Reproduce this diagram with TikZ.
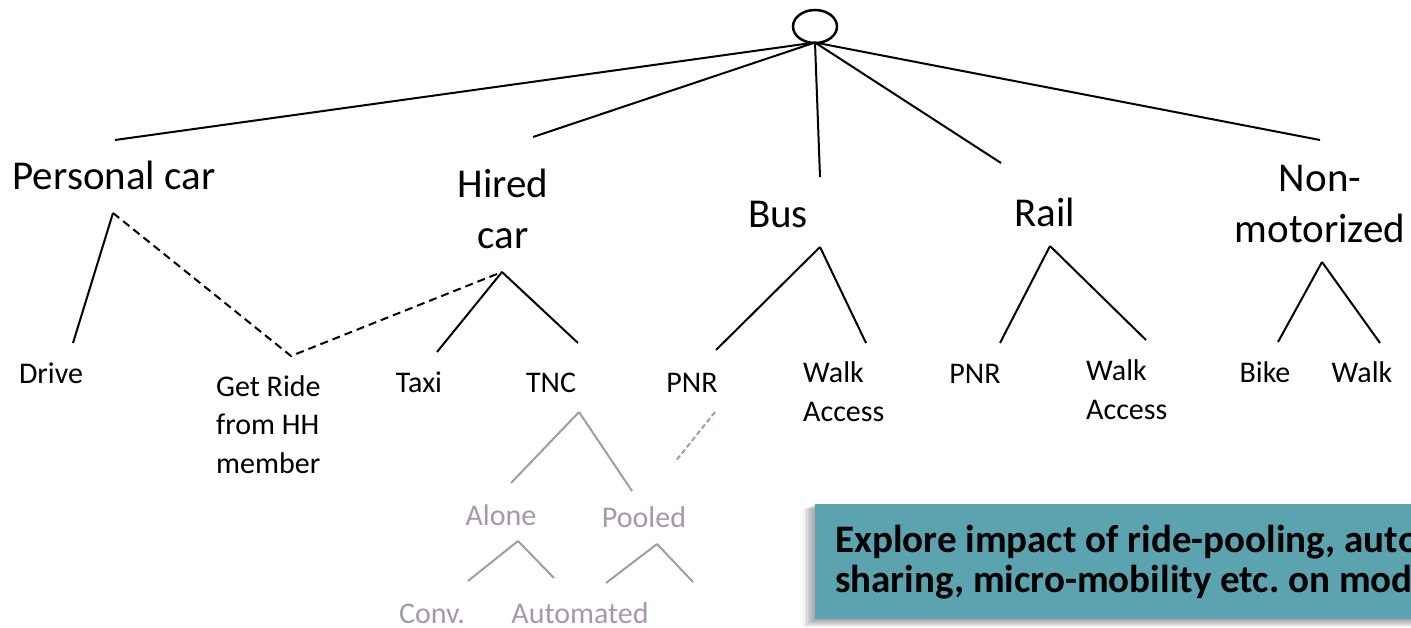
\documentclass[tikz,border=0pt]{standalone}
\usepackage{fontspec}
\usetikzlibrary{shapes.geometric}
\setmainfont{Carlito}
\definecolor{ghost}{HTML}{A598AA}
\definecolor{notefill}{HTML}{5BA3AE}
\begin{document}
\begin{tikzpicture}[x=1pt,y=-1pt,
  big/.style={font=\fontsize{41}{51}\selectfont, anchor=base, inner sep=0pt, align=center},
  small/.style={font=\fontsize{30}{38.5}\selectfont, anchor=base, inner sep=0pt},
  smallleft/.style={small, anchor=base west, align=left},
  faded/.style={small, text=ghost},
  branch/.style={line width=2pt, black},
  linkdash/.style={branch, dash pattern=on 8pt off 5pt},
  fadedline/.style={line width=2pt, ghost},
  fadeddash/.style={fadedline, dash pattern=on 5pt off 3pt},
]
\useasboundingbox (0,0) rectangle (1411,627);
\clip (0,0) rectangle (1411,627);

% root of the nest
\node[draw, line width=2.5pt, ellipse, minimum width=44pt, minimum height=33pt, inner sep=0pt] (root) at (815,26.5) {};
\coordinate (r) at (815,42.5);

% nest heads (multi-line nodes sit on their last baseline)
\node[big] (pcar) at (114,189) {Personal car};
\node[big] (hired) at (503,248) {Hired\\car};
\node[big] (bus) at (778,227) {Bus};
\node[big] (rail) at (1045,226) {Rail};
\node[big] (nonmot) at (1320,242) {Non-\\motorized};

% upper branch ends
\coordinate (pcarTop) at (115,140);
\coordinate (hiredTop) at (533,137);
\coordinate (busTop) at (820,177);
\coordinate (railTop) at (1001,163);
\coordinate (nonmotTop) at (1320,140);

\draw[branch] (r) -- (pcarTop);
\draw[branch] (r) -- (hiredTop);
\draw[branch] (r) -- (busTop);
\draw[branch] (r) -- (railTop);
\draw[branch] (r) -- (nonmotTop);

% apexes below the heads
\coordinate (pcarA) at (113,213);
\coordinate (hiredA) at (502,272);
\coordinate (busA) at (820,247);
\coordinate (railA) at (1050,246);
\coordinate (nonmotA) at (1322,262);

% leaf labels
\node[small] (drive) at (51,383) {Drive};
\node[smallleft] (getride) at (216,473) {Get Ride\\from HH\\member};
\node[small] (taxi) at (419,392) {Taxi};
\node[small] (tnc) at (551,392) {TNC};
\node[small] (pnrbus) at (692,392) {PNR};
\node[smallleft] (walkbus) at (803,421) {Walk\\Access};
\node[small] (pnrrail) at (975,383) {PNR};
\node[smallleft] (walkrail) at (1086,419) {Walk\\Access};
\node[small] (bike) at (1265,382) {Bike};
\node[small] (walk) at (1362,382) {Walk};

% lower branch ends
\coordinate (driveT) at (73,343);
\coordinate (getrideT) at (291,356);
\coordinate (taxiT) at (437,352);
\coordinate (tncT) at (578,343);
\coordinate (pnrbusT) at (716,350);
\coordinate (walkbusT) at (866,343);
\coordinate (pnrrailT) at (1000,343);
\coordinate (walkrailT) at (1146,340);
\coordinate (bikeT) at (1278,342);
\coordinate (walkT) at (1380,343);

\draw[branch] (pcarA) -- (driveT);
\draw[linkdash] (pcarA) -- (getrideT) -- (hiredA);
\draw[branch] (hiredA) -- (taxiT);
\draw[branch] (hiredA) -- (tncT);
\draw[branch] (busA) -- (pnrbusT);
\draw[branch] (busA) -- (walkbusT);
\draw[branch] (railA) -- (pnrrailT);
\draw[branch] (railA) -- (walkrailT);
\draw[branch] (nonmotA) -- (bikeT);
\draw[branch] (nonmotA) -- (walkT);

% faded sub-nest under TNC
\node[faded] (alone) at (501,525) {Alone};
\node[faded] (pooled) at (644,527) {Pooled};
\node[faded] (conv) at (432,623) {Conv.};
\node[faded] (auto) at (580,623) {Automated};

\coordinate (tncA) at (579,412);
\coordinate (aloneT) at (511,483);
\coordinate (pooledT) at (632,491);
\coordinate (pnrLow) at (715,412);
\coordinate (pooledLink) at (675,462);
\coordinate (aloneA) at (518,541);
\coordinate (aloneL) at (468,581);
\coordinate (aloneR) at (554,578);
\coordinate (pooledA) at (657,544);
\coordinate (pooledL) at (606,583);
\coordinate (pooledR) at (693,582);

\draw[fadedline] (tncA) -- (aloneT);
\draw[fadedline] (tncA) -- (pooledT);
\draw[fadeddash] (pnrLow) -- (pooledLink);
\draw[fadedline] (aloneA) -- (aloneL);
\draw[fadedline] (aloneA) -- (aloneR);
\draw[fadedline] (pooledA) -- (pooledL);
\draw[fadedline] (pooledA) -- (pooledR);

% note box with soft shadow on the left and bottom
\foreach \k in {1,...,8}{
  \fill[black, opacity=0.05] (815-1.5*\k,504+0.6*\k) rectangle (1440,619+1*\k);
}
\node[fill=notefill, anchor=north west, minimum width=630pt, minimum height=115pt, inner sep=0pt] (note) at (815,504) {};
\node[anchor=base west, inner sep=0pt, align=left, font=\frenchspacing\bfseries\fontsize{39}{40}\selectfont] (notetext) at (835,592)
  {Explore impact of ride-pooling, automation, car-\\sharing, micro-mobility etc. on mode choice};
\end{tikzpicture}
\end{document}
